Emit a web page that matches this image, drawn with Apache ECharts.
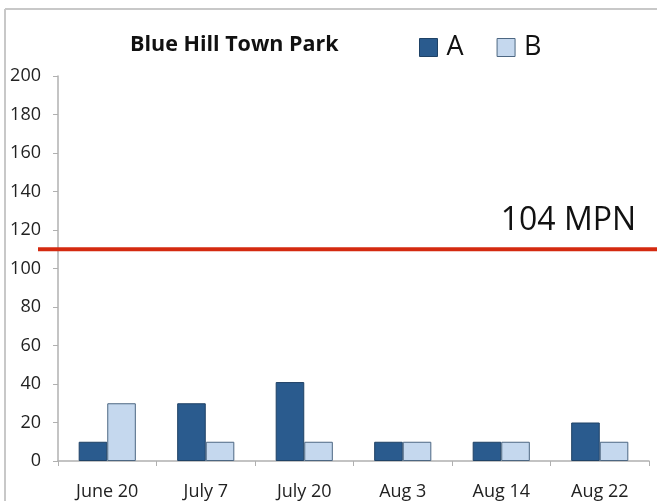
<!DOCTYPE html>
<html><head><meta charset="utf-8">
<script src="https://cdn.jsdelivr.net/npm/echarts@6/dist/echarts.min.js"></script>
<style>html,body{margin:0;padding:0;background:#fff;}#c{width:657px;height:501px;}</style>
</head><body><div id="c"></div>
<script>
var categories = ['June 20', 'July 7', 'July 20', 'Aug 3', 'Aug 14', 'Aug 22'];
var seriesA = [10, 30, 41, 10, 10, 20];
var seriesB = [30, 10, 10, 10, 10, 10];
var threshold = 110;
var thresholdLabel = '104 MPN';
var chartTitle = 'Blue Hill Town Park';

var chart = echarts.init(document.getElementById('c'));
var font = 'Open Sans, sans-serif';
chart.setOption({
  animation: false,
  title: {text: chartTitle, left: 125, top: 29, textStyle: {fontSize: 21.5, fontWeight: 'bold', color: '#111', fontFamily: font}},
  legend: {
    left: 414, top: 29, itemWidth: 18, itemHeight: 18, itemGap: 33, icon: 'rect',
    textStyle: {fontSize: 27, color: '#111', fontFamily: font, padding: [0,0,0,4]},
    itemStyle: {borderWidth: 1},
    data: ['A', 'B']
  },
  grid: {left: 58, right: 8, top: 76, bottom: 40},
  xAxis: {
    type: 'category', data: categories,
    axisLine: {lineStyle: {color: '#b0b0b0', width: 1.5}},
    axisTick: {show: true, length: 5, lineStyle: {color: '#b0b0b0'}},
    axisLabel: {fontSize: 18, color: '#222', margin: 22, fontFamily: font}
  },
  yAxis: {
    type: 'value', min: 0, max: 200, interval: 20,
    axisLine: {show: true, lineStyle: {color: '#b0b0b0', width: 1.5}},
    axisTick: {show: true, length: 5, lineStyle: {color: '#b0b0b0'}},
    splitLine: {show: false},
    axisLabel: {fontSize: 18, color: '#222', margin: 17, fontFamily: font}
  },
  series: [
    {name: 'A', type: 'bar', data: seriesA, barGap: '0%', barCategoryGap: '42%',
     itemStyle: {color: '#2a5b8e', borderColor: '#1f4266', borderWidth: 1}},
    {name: 'B', type: 'bar', data: seriesB,
     itemStyle: {color: '#c5d8ee', borderColor: '#4d6782', borderWidth: 1}}
  ]
});
var yPix = chart.convertToPixel({yAxisIndex: 0}, threshold);
chart.setOption({
  graphic: [
    {type: 'line', shape: {x1: 5, y1: 9, x2: 657, y2: 9}, style: {stroke: '#c8c8c8', lineWidth: 2}},
    {type: 'line', shape: {x1: 5, y1: 9, x2: 5, y2: 501}, style: {stroke: '#c8c8c8', lineWidth: 2}},
    {type: 'line', shape: {x1: 38, y1: yPix, x2: 657, y2: yPix}, style: {stroke: '#d42a10', lineWidth: 4}, z: 10},
    {type: 'text', right: 21, top: yPix - 44, style: {text: thresholdLabel, fontSize: 32, fill: '#111', fontFamily: font}, z: 10}
  ]
});
</script></body></html>
